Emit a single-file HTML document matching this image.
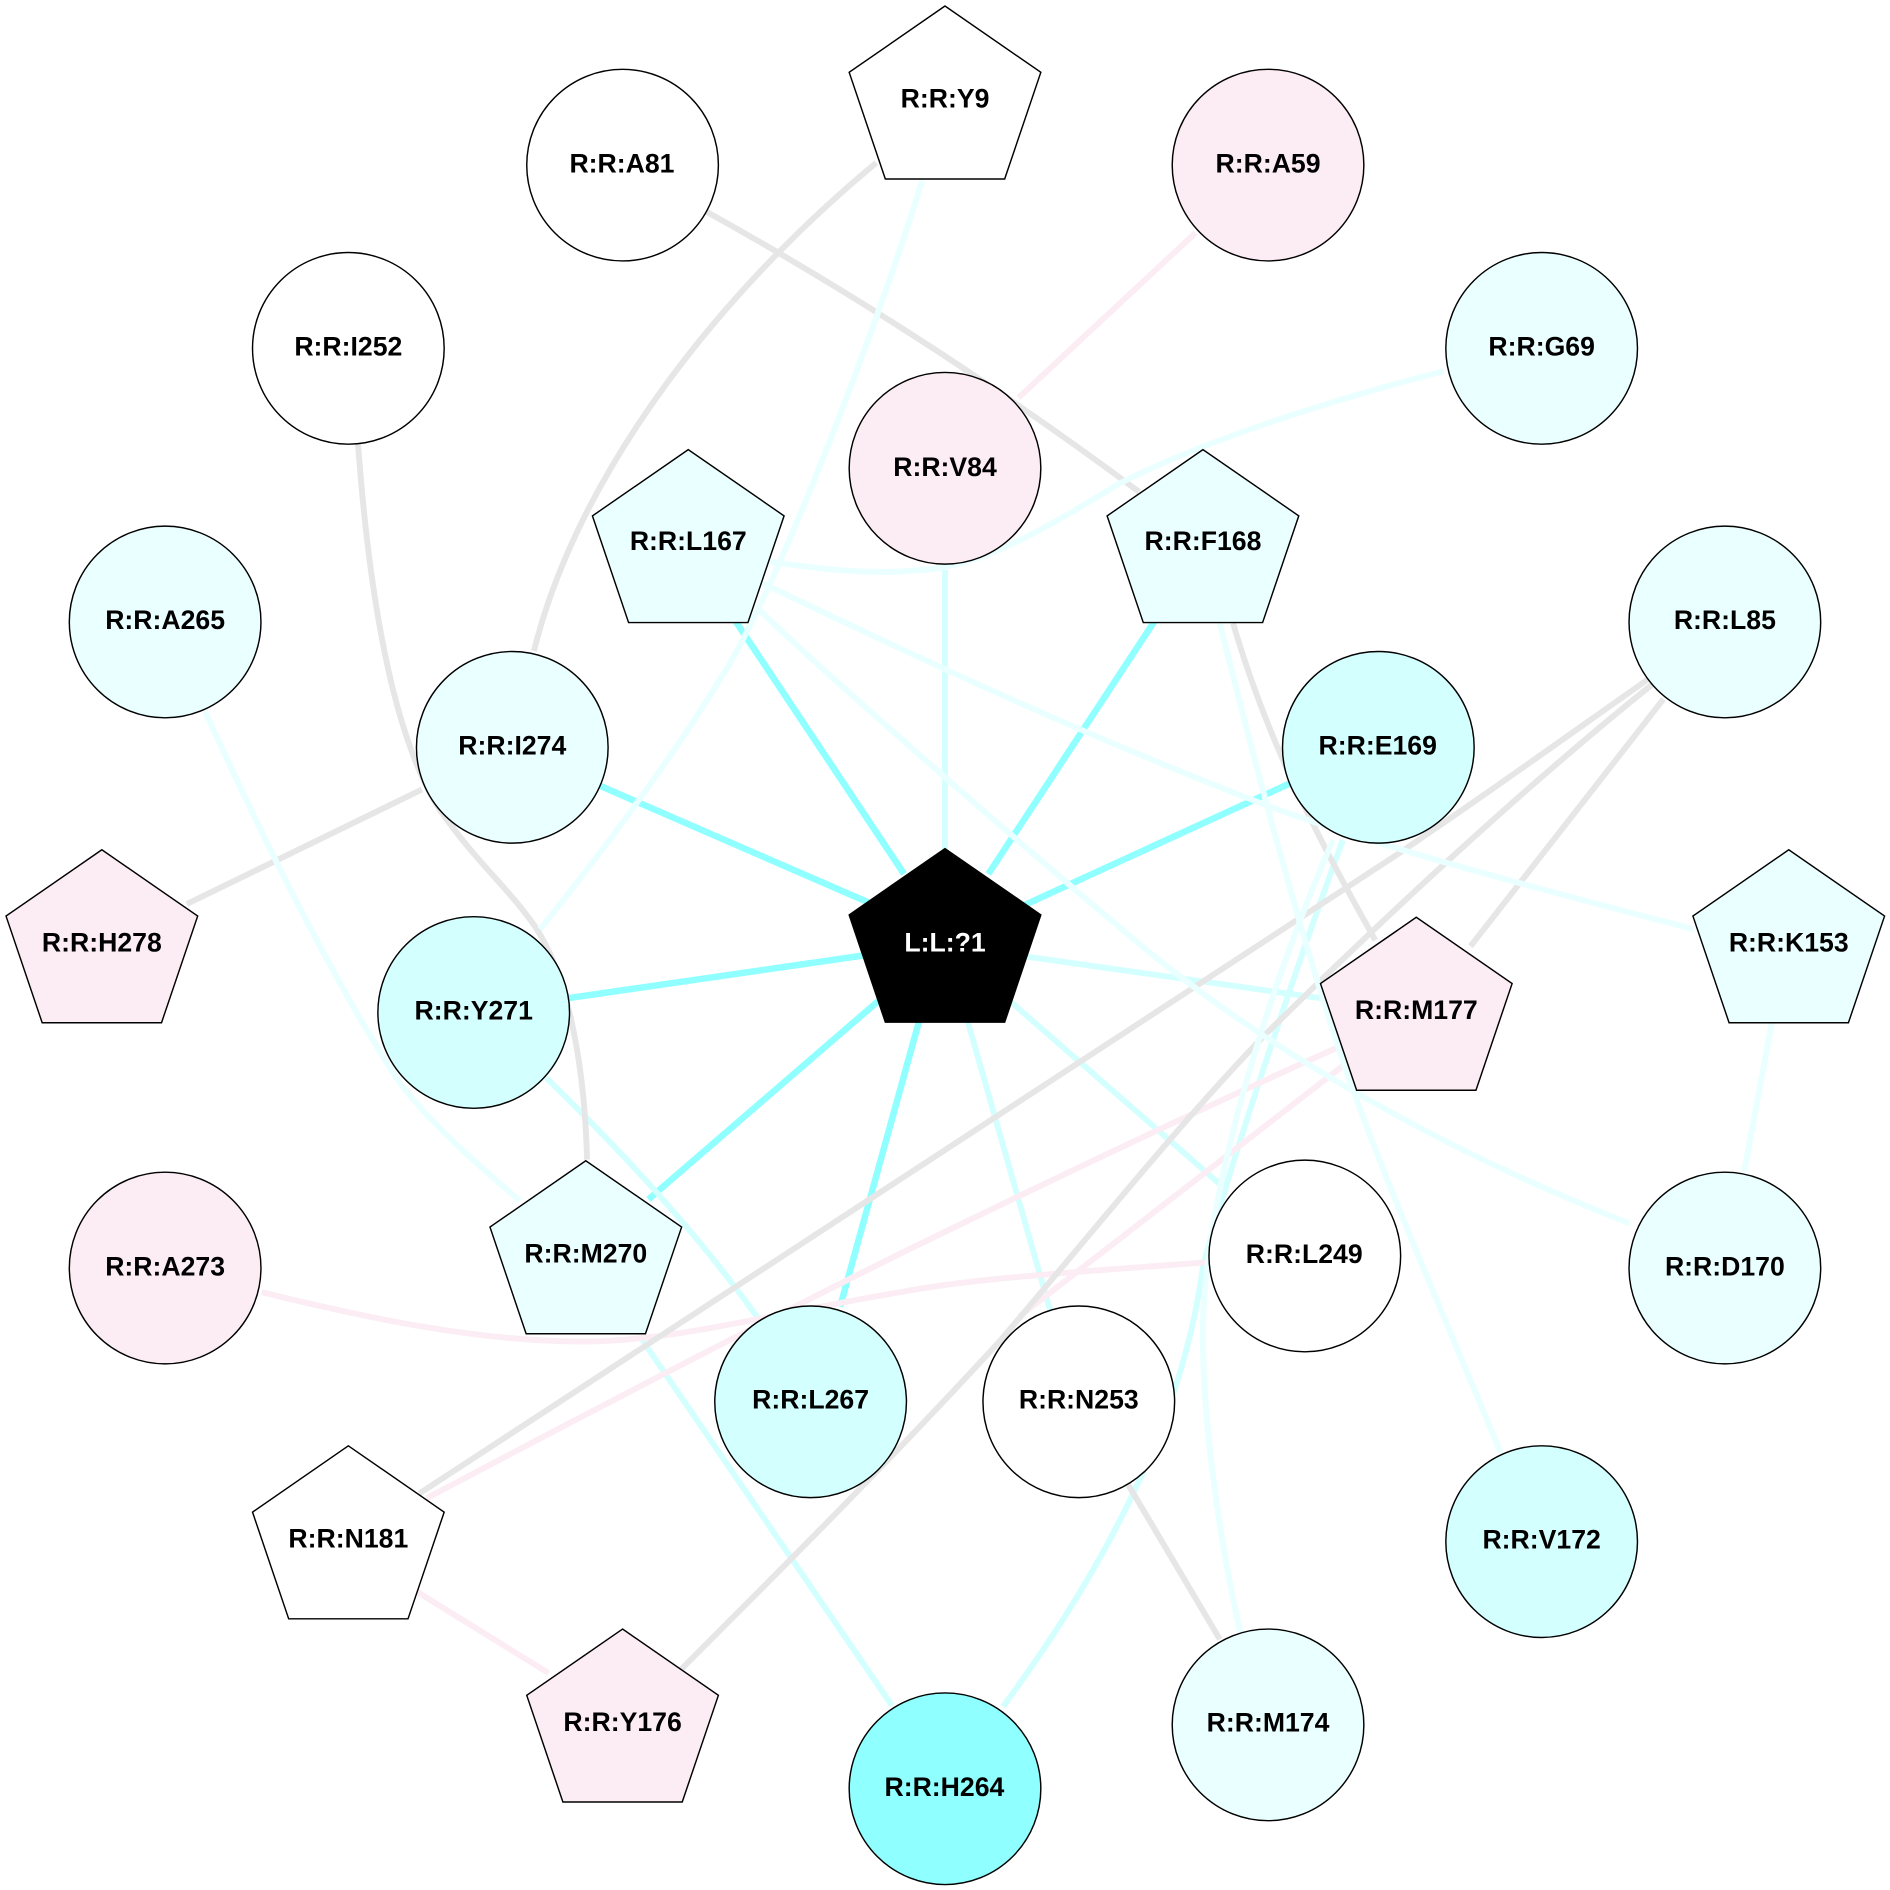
<!DOCTYPE html>
<html><head><meta charset="utf-8"><style>
html,body{margin:0;padding:0;background:#fff}
svg{display:block}
text{font-family:"Liberation Sans",sans-serif;font-weight:bold;font-size:22.1px;text-anchor:middle;fill:#000}
.n{stroke:#000;stroke-width:1.2}
path{fill:none;stroke-width:4.9;stroke-linejoin:round}
.c0{stroke:#8fffff;stroke-width:5.4}
.c1{stroke:#d4ffff}
.c2{stroke:#eaffff}
.g{stroke:#e6e6e6;stroke-width:4.9}
.p{stroke:#fbedf3}
</style></head><body>
<svg width="1890" height="1890" viewBox="0 0 1568 1568" xmlns="http://www.w3.org/2000/svg">
<rect width="1568" height="1568" fill="#fff"/>
<path class="c0" d="M610 515L750 725"/>
<path class="c0" d="M958 515L820 725"/>
<path class="c0" d="M498 652L735 755"/>
<path class="c0" d="M1070 650L830 760"/>
<path class="c0" d="M472 828L735 790"/>
<path class="c0" d="M538 995L735 825"/>
<path class="c0" d="M697 1084L770 820"/>

<path class="c1" d="M784 473L784 710"/>
<path class="c1" d="M1095 828L840 792"/>
<path class="c1" d="M803 848L872 1090"/>
<path class="c1" d="M1015 985L835 828"/>
<path class="c1" d="M453 894C490 930 570 1010 632 1098"/>
<path class="c1" d="M533 1112L740 1415"/>
<path class="c1" d="M1114 697C1080 790 1025 950 998 1051C982 1170 925 1290 832 1416"/>

<path class="p" d="M992 193L845 330"/>
<path class="p" d="M1112 868C1000 918 870 980 747 1040C680 1073 520 1155 354 1243"/>
<path class="p" d="M1117 882L846 1092"/>
<path class="p" d="M217 1072C310 1095 400 1113 484 1113C560 1113 650 1088 747 1072C810 1060 900 1055 1003 1047"/>
<path class="p" d="M345 1320L455 1388"/>

<path class="g" d="M727 135C600 240 480 390 443 540"/>
<path class="g" d="M585 175C720 250 840 330 945 408"/>
<path class="g" d="M297 368C306 490 325 610 365 672C395 715 420 735 442 766C470 805 485 880 487 962"/>
<path class="g" d="M350 655L155 750"/>
<path class="g" d="M1023 517C1050 610 1090 690 1141 780"/>
<path class="g" d="M348 1239L1156 711C1220 668 1280 625 1368 563"/>
<path class="g" d="M1378 562C1280 640 1170 740 1051 857C980 930 900 1030 830 1112C740 1210 650 1300 565 1385"/>
<path class="g" d="M1380 580L1220 785"/>
<path class="g" d="M935 1230L1012 1360"/>

<path class="c2" d="M765 150C725 280 640 500 597 564C560 625 505 700 448 771"/>
<path class="c2" d="M1198 308C1110 330 1000 365 929 401C880 430 820 470 763 473C720 477 680 472 639 466"/>
<path class="c2" d="M170 590C220 700 280 820 332 899C360 935 395 965 431 996"/>
<path class="c2" d="M633 484C770 550 900 610 1045 666C1150 705 1280 738 1405 771"/>
<path class="c2" d="M630 506C680 555 840 695 951 788C1045 865 1185 950 1352 1015"/>
<path class="c2" d="M1012 517C1040 630 1075 760 1109 865C1140 960 1195 1085 1245 1205"/>
<path class="c2" d="M1106 697C1060 800 1000 980 998 1100C997 1170 1010 1270 1029 1355"/>
<path class="c2" d="M1470 848L1447 972"/>

<circle class="n" cx="516.500" cy="137" r="79.5" fill="#fff"/><text x="516" y="143">R:R:A81</text>
<circle class="n" cx="1052" cy="137" r="79.5" fill="#fbedf3"/><text x="1052" y="143">R:R:A59</text>
<circle class="n" cx="1279" cy="289" r="79.5" fill="#eaffff"/><text x="1279" y="295">R:R:G69</text>
<circle class="n" cx="289" cy="289" r="79.5" fill="#fff"/><text x="289" y="295">R:R:I252</text>
<circle class="n" cx="137" cy="516" r="79.5" fill="#eaffff"/><text x="137" y="522">R:R:A265</text>
<circle class="n" cx="1431" cy="516" r="79.5" fill="#eaffff"/><text x="1431" y="522">R:R:L85</text>
<circle class="n" cx="784" cy="388.500" r="79.5" fill="#fbedf3"/><text x="784" y="395">R:R:V84</text>
<circle class="n" cx="425" cy="620" r="79.5" fill="#eaffff"/><text x="425" y="626">R:R:I274</text>
<circle class="n" cx="1143.500" cy="620" r="79.500" fill="#d4ffff"/><text x="1143" y="626">R:R:E169</text>
<circle class="n" cx="393" cy="840" r="79.5" fill="#d4ffff"/><text x="393" y="846">R:R:Y271</text>
<circle class="n" cx="1082.500" cy="1042" r="79.5" fill="#fff"/><text x="1082" y="1048">R:R:L249</text>
<circle class="n" cx="137" cy="1052" r="79.5" fill="#fbedf3"/><text x="137" y="1058">R:R:A273</text>
<circle class="n" cx="1431" cy="1052" r="79.5" fill="#eaffff"/><text x="1431" y="1058">R:R:D170</text>
<circle class="n" cx="672.500" cy="1163" r="79.500" fill="#d4ffff"/><text x="672.500" y="1168.500">R:R:L267</text>
<circle class="n" cx="895" cy="1163" r="79.5" fill="#fff"/><text x="895" y="1168.500">R:R:N253</text>
<circle class="n" cx="1279" cy="1279" r="79.5" fill="#d4ffff"/><text x="1279" y="1284.500">R:R:V172</text>
<circle class="n" cx="1052" cy="1431" r="79.5" fill="#eaffff"/><text x="1052" y="1436.500">R:R:M174</text>
<circle class="n" cx="784" cy="1484" r="79.5" fill="#8fffff"/><text x="783.500" y="1490">R:R:H264</text>

<g transform="translate(784,5)"><polygon class="n" fill="#fff" points="0,0 -79.500,55 -49.500,143.500 49.500,143.500 79.500,55"/><text y="84">R:R:Y9</text></g>
<g transform="translate(571,373)"><polygon class="n" fill="#eaffff" points="0,0 -79.500,55 -49.500,143.500 49.500,143.500 79.500,55"/><text y="83.500">R:R:L167</text></g>
<g transform="translate(998,373)"><polygon class="n" fill="#eaffff" points="0,0 -79.500,55 -49.500,143.500 49.500,143.500 79.500,55"/><text y="83.500">R:R:F168</text></g>
<g transform="translate(84.500,705)"><polygon class="n" fill="#fbedf3" points="0,0 -79.500,55 -49.500,143.500 49.500,143.500 79.500,55"/><text y="84.500">R:R:H278</text></g>
<g transform="translate(1484,705)"><polygon class="n" fill="#eaffff" points="0,0 -79.500,55 -49.500,143.500 49.500,143.500 79.500,55"/><text y="84.500">R:R:K153</text></g>
<g transform="translate(1175,761)"><polygon class="n" fill="#fbedf3" points="0,0 -79.500,55 -49.500,143.500 49.500,143.500 79.500,55"/><text y="84.500">R:R:M177</text></g>
<g transform="translate(486,963)"><polygon class="n" fill="#eaffff" points="0,0 -79.500,55 -49.500,143.500 49.500,143.500 79.500,55"/><text y="84.500">R:R:M270</text></g>
<g transform="translate(289,1199.500)"><polygon class="n" fill="#fff" points="0,0 -79.500,55 -49.500,143.500 49.500,143.500 79.500,55"/><text y="84.500">R:R:N181</text></g>
<g transform="translate(516.500,1351.500)"><polygon class="n" fill="#fbedf3" points="0,0 -79.500,55 -49.500,143.500 49.500,143.500 79.500,55"/><text y="84.500">R:R:Y176</text></g>
<g transform="translate(784,704)"><polygon class="n" fill="#000" points="0,0 -79.500,55 -49.500,144 49.500,144 79.500,55"/><text y="85.500" style="fill:#fff">L:L:?1</text></g>
</svg>
</body></html>
